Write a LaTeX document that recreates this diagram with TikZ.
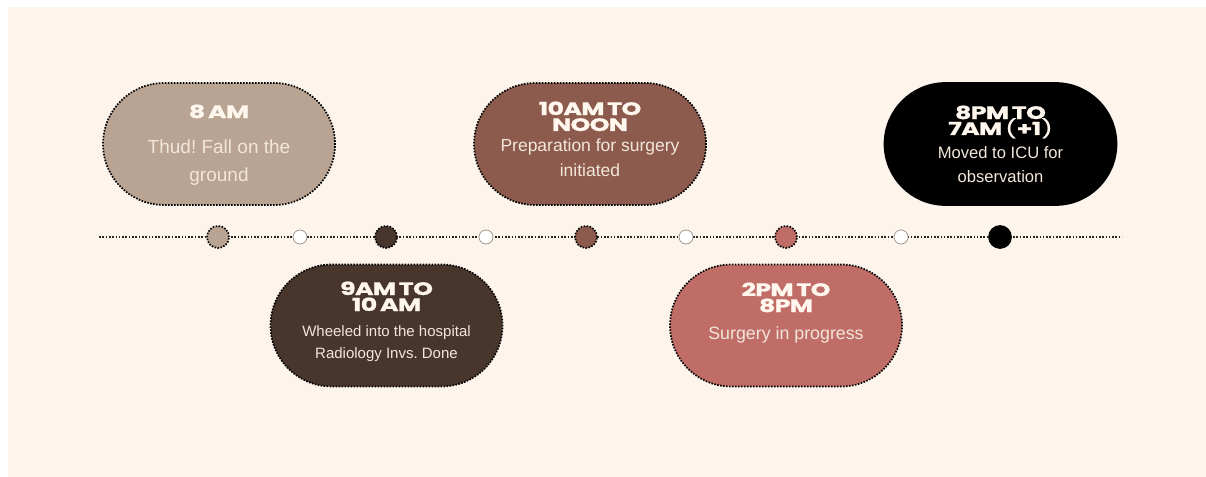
\documentclass[tikz,border=0pt]{standalone}
\usepackage{fontspec}
\setmainfont{Liberation Sans}
\newfontfamily\titlefont[FakeStretch=1.4,FakeBold=1.2,LetterSpace=-3.5,WordSpace=0.6]{Poppins}
\usetikzlibrary{shapes.misc}
\definecolor{bgcream}{HTML}{FDF5EC}
\definecolor{ctan}{HTML}{B9A392}
\definecolor{cdark}{HTML}{48352B}
\definecolor{cbrown}{HTML}{8C5B4D}
\definecolor{crose}{HTML}{C06D68}
\definecolor{ttxt}{HTML}{FFF6EE}
\definecolor{btxt}{HTML}{F2E6DA}
\definecolor{ringgray}{HTML}{A09890}
\tikzset{
  x=1pt, y=-1pt,
  evbox/.style={rounded rectangle, minimum width=232pt, minimum height=122pt, inner sep=0pt, draw=black, line width=1.7pt, dash pattern=on 1.6pt off 1.4pt},
  ttl/.style={anchor=base, text=ttxt, font=\titlefont\bfseries\fontsize{18}{18}\selectfont, inner sep=0pt},
  body/.style={anchor=base, text=btxt, inner sep=0pt},
  bigdot/.style={circle, minimum size=22pt, inner sep=0pt, draw=black, line width=1.7pt, dash pattern=on 1.6pt off 1.4pt},
  smalldot/.style={circle, minimum size=14pt, inner sep=0pt, fill=white, draw=ringgray, line width=0.8pt},
  tline/.style={draw=black!85, line width=1.6pt, dash pattern=on 1.6pt off 1.7pt}
}
\frenchspacing
\begin{document}
\begin{tikzpicture}
\useasboundingbox (0,0) rectangle (1206,476);
\fill[white] (0,0) rectangle (1206,476);
\fill[bgcream] (8,7) rectangle (1207,477);
% timeline
\coordinate (tl) at (99,237);
\coordinate (tr) at (1122,237);
\draw[tline] (tl) -- (tr);
% dots
\node[bigdot, fill=ctan] (d1) at (218,237) {};
\node[smalldot] (s1) at (300,237) {};
\node[bigdot, fill=cdark] (d2) at (386,237) {};
\node[smalldot] (s2) at (486,237) {};
\node[bigdot, fill=cbrown] (d3) at (586,237) {};
\node[smalldot] (s3) at (686,237) {};
\node[bigdot, fill=crose] (d4) at (786,237) {};
\node[smalldot] (s4) at (901,237) {};
\node[bigdot, fill=black, draw=black, solid] (d5) at (1000,237) {};
% boxes
\node[evbox, fill=ctan] (b1) at (219,144) {};
\node[evbox, fill=cdark] (b2) at (386.5,325.5) {};
\node[evbox, fill=cbrown] (b3) at (590,144) {};
\node[evbox, fill=crose] (b4) at (786,325.5) {};
\node[evbox, fill=black, draw=black, solid] (b5) at (1000.5,144) {};
% box 1
\node[ttl] (t1) at (219,118) {8 AM};
\node[body, font=\fontsize{19}{19}\selectfont] (x1a) at (219,153) {Thud! Fall on the};
\node[body, font=\fontsize{19}{19}\selectfont] (x1b) at (219,181) {ground};
% box 2
\node[ttl] (t2a) at (386.5,295) {9AM TO};
\node[ttl] (t2b) at (386.5,311) {10 AM};
\node[body, font=\fontsize{15}{15}\selectfont] (x2a) at (386.5,336) {Wheeled into the hospital};
\node[body, font=\fontsize{15}{15}\selectfont] (x2b) at (386.5,358) {Radiology Invs. Done};
% box 3
\node[ttl] (t3a) at (590,115) {10AM TO};
\node[ttl] (t3b) at (590,131) {NOON};
\node[body, font=\fontsize{17.5}{17.5}\selectfont] (x3a) at (590,151) {Preparation for surgery};
\node[body, font=\fontsize{17.5}{17.5}\selectfont] (x3b) at (590,176) {initiated};
% box 4
\node[ttl] (t4a) at (786,296) {2PM TO};
\node[ttl] (t4b) at (786,312) {8PM};
\node[body, font=\fontsize{17.8}{17.8}\selectfont] (x4a) at (786,339) {Surgery in progress};
% box 5
\node[ttl] (t5a) at (1000.5,119) {8PM TO};
\node[ttl] (t5b) at (1000.5,135) {7AM\,{\mdseries(}+1{\mdseries)}};
\node[body, font=\fontsize{16.6}{16.6}\selectfont] (x5a) at (1000.5,158) {Moved to ICU for};
\node[body, font=\fontsize{16.6}{16.6}\selectfont] (x5b) at (1000.5,182) {observation};
\end{tikzpicture}
\end{document}
